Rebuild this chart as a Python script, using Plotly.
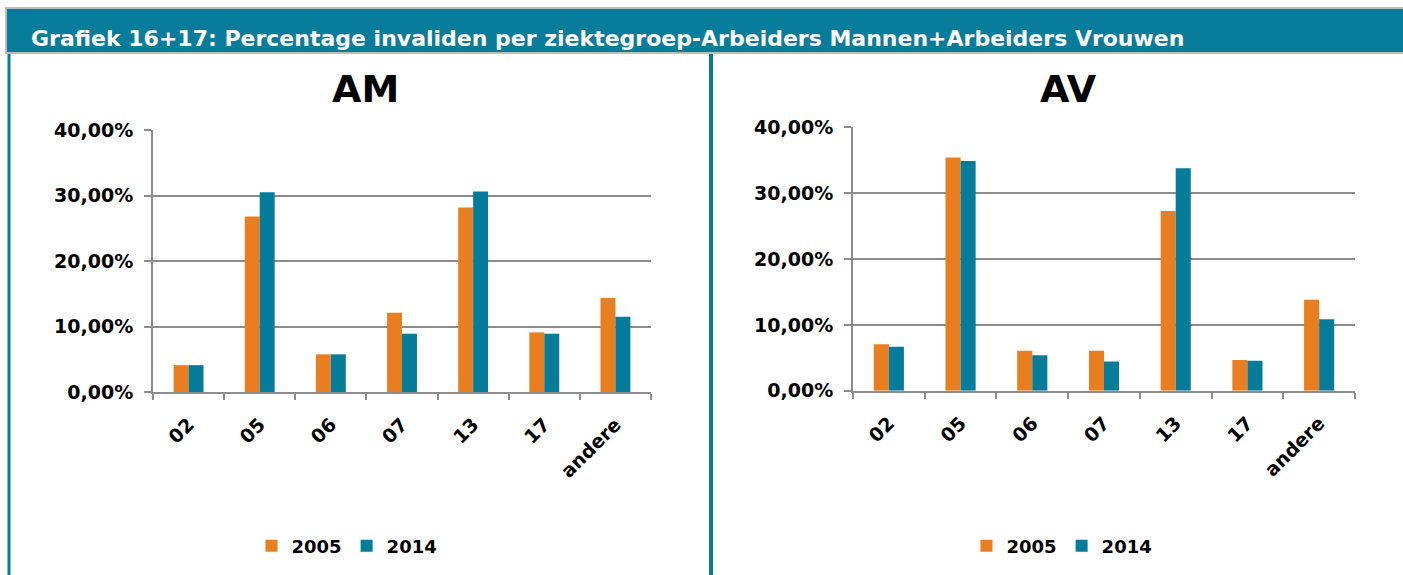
import plotly.graph_objects as go

categories = ["02", "05", "06", "07", "13", "17", "andere"]
am_2005 = [0.041, 0.268, 0.0575, 0.121, 0.2815, 0.091, 0.1435]
am_2014 = [0.041, 0.305, 0.0575, 0.089, 0.306, 0.089, 0.115]
av_2005 = [0.0705, 0.354, 0.0608, 0.0608, 0.273, 0.0466, 0.138]
av_2014 = [0.0669, 0.349, 0.054, 0.0445, 0.338, 0.0456, 0.1085]
series_names = ["2005", "2014"]
y_ticks = [0, 0.1, 0.2, 0.3, 0.4]

ORANGE = "#E87E1F"
TEAL = "#067C9B"
HEADER = "#077C9B"
GRID = "#8C8C8C"
FONT = "DejaVu Sans"

W, H = 1403, 575
def px(x): return x / W
def py(y): return 1 - y / H

fig = go.Figure()
fig.add_trace(go.Bar(x=categories, y=am_2005, name=series_names[0], marker=dict(color=ORANGE, line=dict(width=0)),
                     xaxis="x", yaxis="y", legend="legend"))
fig.add_trace(go.Bar(x=categories, y=am_2014, name=series_names[1], marker=dict(color=TEAL, line=dict(width=0)),
                     xaxis="x", yaxis="y", legend="legend"))
fig.add_trace(go.Bar(x=categories, y=av_2005, name=series_names[0], marker=dict(color=ORANGE, line=dict(width=0)),
                     xaxis="x2", yaxis="y2", legend="legend2"))
fig.add_trace(go.Bar(x=categories, y=av_2014, name=series_names[1], marker=dict(color=TEAL, line=dict(width=0)),
                     xaxis="x2", yaxis="y2", legend="legend2"))

tickfont = dict(family=FONT, size=19, color="black", weight="bold")

def xax(domain, anchor):
    return dict(domain=domain, anchor=anchor, type="category", showline=True, linecolor=GRID, linewidth=2,
                ticks="outside", tickson="boundaries", ticklen=6, tickcolor=GRID, tickwidth=2,
                tickangle=-45, tickfont=tickfont, ticklabelstandoff=12,
                showgrid=False, fixedrange=True, automargin=False)

def yax(domain, anchor):
    return dict(domain=domain, anchor=anchor, range=[0, 0.4], tickvals=y_ticks, tickformat=".2%",
                showline=True, linecolor=GRID, linewidth=2, showgrid=True, gridcolor=GRID, gridwidth=2,
                ticks="outside", ticklen=7, tickcolor=GRID, tickwidth=2, tickfont=tickfont,
                ticklabelstandoff=7, zeroline=False, fixedrange=True, automargin=False)

legfont = dict(family=FONT, size=18, color="black", weight="bold")
fig.update_layout(
    width=W, height=H,
    margin=dict(l=0, r=0, t=0, b=0, autoexpand=False),
    paper_bgcolor="white", plot_bgcolor="white",
    separators=",.",
    barmode="group", bargap=0.58, bargroupgap=0,
    xaxis=xax([px(153), px(651)], "y"),
    yaxis=yax([py(392), py(130)], "x"),
    xaxis2=xax([px(853), px(1355)], "y2"),
    yaxis2=yax([py(390.7), py(127.3)], "x2"),
    legend=dict(orientation="h", x=px(347), xanchor="center", y=py(546), yanchor="middle",
                font=legfont, itemwidth=30, traceorder="normal", bgcolor="rgba(0,0,0,0)"),
    legend2=dict(orientation="h", x=px(1062), xanchor="center", y=py(546), yanchor="middle",
                 font=legfont, itemwidth=30, traceorder="normal", bgcolor="rgba(0,0,0,0)"),
    showlegend=True,
)

shapes = [
    dict(type="rect", xref="paper", yref="paper", x0=px(6), x1=1.01, y0=py(53), y1=py(8),
         fillcolor=HEADER, line=dict(color="#BDBDBD", width=2), layer="below"),
    dict(type="line", xref="paper", yref="paper", x0=px(9), x1=px(9), y0=py(54), y1=0,
         line=dict(color=HEADER, width=3)),
    dict(type="line", xref="paper", yref="paper", x0=px(711), x1=px(711), y0=py(54), y1=0,
         line=dict(color=HEADER, width=4)),
]
fig.update_layout(shapes=shapes)

annotations = [
    dict(text="Grafiek 16+17: Percentage invaliden per ziektegroep-Arbeiders Mannen+Arbeiders Vrouwen",
         xref="paper", yref="paper", x=px(29), y=py(38), xanchor="left", yanchor="middle", showarrow=False,
         font=dict(family=FONT, size=22, color="white", weight="bold")),
    dict(text="AM", xref="paper", yref="paper", x=px(365), y=py(89), xanchor="center", yanchor="middle",
         showarrow=False, font=dict(family=FONT, size=38, color="black", weight="bold")),
    dict(text="AV", xref="paper", yref="paper", x=px(1068), y=py(89), xanchor="center", yanchor="middle",
         showarrow=False, font=dict(family=FONT, size=38, color="black", weight="bold")),
]
fig.update_layout(annotations=annotations)

fig.write_html("out.html", config={"displayModeBar": False},
               post_script="document.body.style.margin='0';document.body.style.overflow='hidden';")
